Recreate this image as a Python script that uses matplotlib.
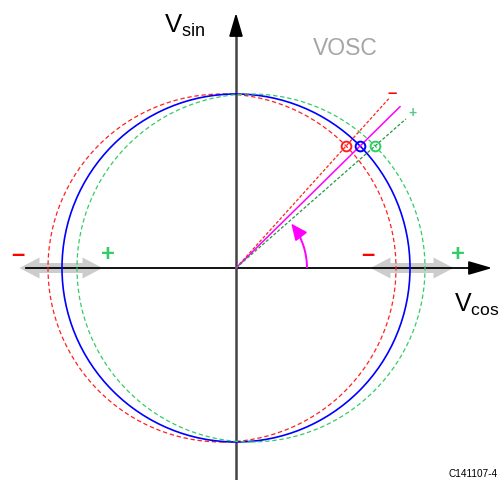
import numpy as np
import matplotlib
matplotlib.use("Agg")
import matplotlib.pyplot as plt
from matplotlib.patches import Circle, FancyArrowPatch, FancyArrow, Arc

plt.rcParams["font.family"] = ["Liberation Sans", "DejaVu Sans"]
plt.rcParams["mathtext.fontset"] = "custom"
plt.rcParams["mathtext.rm"] = "Liberation Sans"
plt.rcParams["mathtext.it"] = "Liberation Sans"

# ---- data ----
radius = 174.0
circle_offsets = [-14.0, 0.0, 15.0]          # red (-), blue (nominal), green (+)
circle_colors = ["#ff2020", "#0000ff", "#33cc66"]
circle_styles = ["--", "-", "--"]
phase_y = 122.0                               # height of the marked points
line_lengths = [228.0, 230.0, 226.0]          # red, magenta(blue), green phase lines
line_colors = ["#ff2020", "#ff00ff", "#229944"]
line_styles = ["--", "-", "--"]
arc_radius = 71.0
arc_end_deg = 40.0

fig = plt.figure(figsize=(5.01, 4.81), dpi=100)
ax = fig.add_axes([0, 0, 1, 1])
ax.set_xlim(-236, 501 - 236)
ax.set_ylim(-(481 - 269), 269)
ax.axis("off")

# gray double arrows (drawn under everything)
for cx in [-175.0, 176.0]:
    for d in [-1, 1]:
        ax.add_patch(FancyArrow(cx, 0, d * 41.5, 0, width=10, head_width=21,
                                head_length=20, length_includes_head=True,
                                color="#cccccc", lw=0, zorder=1))

# axes
ax.plot([-210, 245], [0, 0], color="black", lw=1.3, zorder=2)
ax.add_patch(FancyArrowPatch((240, 0), (259, 0), arrowstyle="-|>,head_length=1.2,head_width=0.35",
                             mutation_scale=12, color="black", lw=1.3, zorder=2))
ax.plot([0, 0], [-215, 245], color="#444444", lw=1.8, zorder=2)
ax.add_patch(FancyArrowPatch((0, 240), (0, 258), arrowstyle="-|>,head_length=1.2,head_width=0.35",
                             mutation_scale=12, color="black", lw=1.3, zorder=2))

# circles
for off, col, ls in zip(circle_offsets, circle_colors, circle_styles):
    c = Circle((off, 0), radius, fill=False, edgecolor=col,
               lw=1.2 if ls == "-" else 0.9, zorder=3)
    if ls == "--":
        c.set_linestyle((0, (3.5, 2.2)))
    ax.add_patch(c)

# marked points on each circle at the same height
xs = [off + np.sqrt(radius**2 - phase_y**2) for off in circle_offsets]

# phase lines through the origin and each marked point
for x, L, col, ls in zip(xs, line_lengths, line_colors, line_styles):
    ang = np.arctan2(phase_y, x)
    ln, = ax.plot([0, L * np.cos(ang)], [0, L * np.sin(ang)], color=col,
                  lw=1.1 if ls == "-" else 0.9, zorder=4)
    if ls == "--":
        ln.set_dashes((2.5, 1.5))

for x, col in zip(xs, circle_colors):
    ax.plot(x, phase_y, "o", ms=7, mfc="none", mec=col, mew=1.4, zorder=5)

# angle arc
ax.add_patch(Arc((0, 0), 2 * arc_radius, 2 * arc_radius, theta1=0, theta2=arc_end_deg - 4,
                 color="#ff00ff", lw=1.4, zorder=4))
a0 = np.deg2rad(arc_end_deg - 6)
a1 = np.deg2rad(arc_end_deg + 1)
ax.add_patch(FancyArrowPatch((arc_radius * np.cos(a0), arc_radius * np.sin(a0)),
                             (arc_radius * np.cos(a1), arc_radius * np.sin(a1)),
                             arrowstyle="-|>,head_length=1.0,head_width=0.45",
                             mutation_scale=10, color="#ff00ff", lw=1.2, zorder=4))

# +/- labels
for x in [-218.0, 132.0]:
    ax.text(x, 14, "\u2013", color="#ff0000", fontsize=17, fontweight="bold",
            ha="center", va="center", zorder=6)
for x in [-128.0, 222.0]:
    ax.text(x, 14, "+", color="#33cc66", fontsize=17, fontweight="bold",
            ha="center", va="center", zorder=6)
ax.text(156, 175, "\u2013", color="#ff0000", fontsize=12, fontweight="bold",
        ha="center", va="center")
ax.text(177, 156, "+", color="#55cc88", fontsize=10, fontweight="bold",
        ha="center", va="center")

# titles
ax.text(-51, 243, r"V$_{\rm sin}$", fontsize=18.5, ha="center", va="center")
ax.text(241, -36, r"V$_{\rm cos}$", fontsize=18, ha="center", va="center")
ax.text(109, 220, "VOSC", fontsize=16.5, color="#a6a6a6", ha="center", va="center")
ax.text(237, -205, "C141107-4", fontsize=7.2, ha="center", va="center")

fig.savefig("out.png", dpi=100)
